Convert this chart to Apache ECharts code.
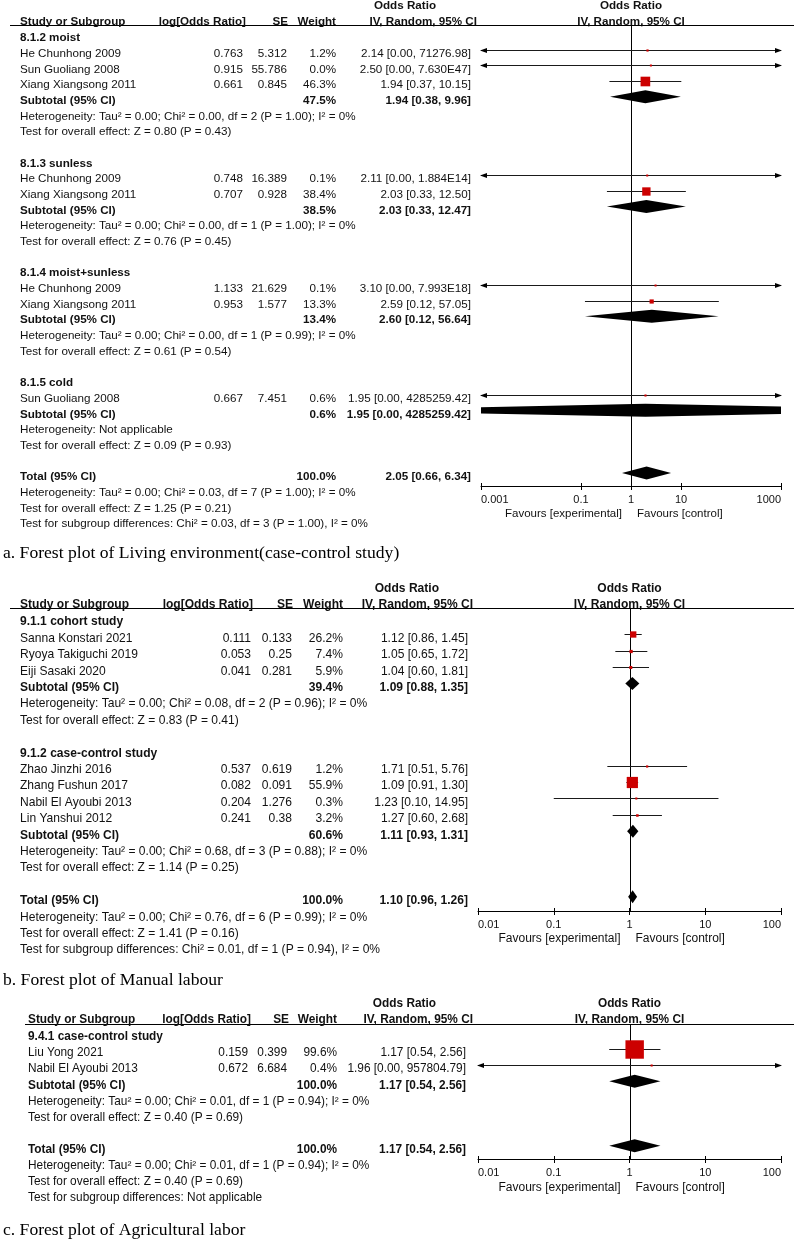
<!DOCTYPE html>
<html><head><meta charset="utf-8">
<script src="https://cdn.jsdelivr.net/npm/echarts@6/dist/echarts.min.js"></script>
<style>html,body{margin:0;padding:0;background:#fff}#c{width:794px;height:1240px}</style>
</head><body><div id="c"></div><script>
// ================= DATA =================
// ---- Panel a: Living environment ----
const aGroupTitles = ['8.1.2 moist', '8.1.3 sunless', '8.1.4 moist+sunless', '8.1.5 cold'];
const aGroupRows = [0, 8, 15, 22];
const aNames = ['He Chunhong 2009', 'Sun Guoliang 2008', 'Xiang Xiangsong 2011', 'He Chunhong 2009', 'Xiang Xiangsong 2011', 'He Chunhong 2009', 'Xiang Xiangsong 2011', 'Sun Guoliang 2008'];
const aRows = [1, 2, 3, 9, 10, 16, 17, 23];
const aLogOR = [0.763, 0.915, 0.661, 0.748, 0.707, 1.133, 0.953, 0.667];
const aSE = [5.312, 55.786, 0.845, 16.389, 0.928, 21.629, 1.577, 7.451];
const aWeight = [1.2, 0.0, 46.3, 0.1, 38.4, 0.1, 13.3, 0.6];
const aOR = [2.14, 2.50, 1.94, 2.11, 2.03, 3.10, 2.59, 1.95];
const aLower = [6.5e-5, 8.2e-48, 0.37, 2.3e-14, 0.33, 1.2e-18, 0.12, 8.8e-7];
const aUpper = [71276.98, 7.630e47, 10.15, 1.884e14, 12.50, 7.993e18, 57.05, 4285259.42];
const aCIText = ['2.14 [0.00, 71276.98]', '2.50 [0.00, 7.630E47]', '1.94 [0.37, 10.15]', '2.11 [0.00, 1.884E14]', '2.03 [0.33, 12.50]', '3.10 [0.00, 7.993E18]', '2.59 [0.12, 57.05]', '1.95 [0.00, 4285259.42]'];
const aSumNames = ['Subtotal (95% CI)', 'Subtotal (95% CI)', 'Subtotal (95% CI)', 'Subtotal (95% CI)', 'Total (95% CI)'];
const aSumRows = [4, 11, 18, 24, 28];
const aSumWeight = [47.5, 38.5, 13.4, 0.6, 100.0];
const aSumOR = [1.94, 2.03, 2.60, 1.95, 2.05];
const aSumLower = [0.38, 0.33, 0.12, 8.8e-7, 0.66];
const aSumUpper = [9.96, 12.47, 56.64, 4285259.42, 6.34];
const aSumCIText = ['1.94 [0.38, 9.96]', '2.03 [0.33, 12.47]', '2.60 [0.12, 56.64]', '1.95 [0.00, 4285259.42]', '2.05 [0.66, 6.34]'];
const aNotes = [
  'Heterogeneity: Tau² = 0.00; Chi² = 0.00, df = 2 (P = 1.00); I² = 0%',
  'Test for overall effect: Z = 0.80 (P = 0.43)',
  'Heterogeneity: Tau² = 0.00; Chi² = 0.00, df = 1 (P = 1.00); I² = 0%',
  'Test for overall effect: Z = 0.76 (P = 0.45)',
  'Heterogeneity: Tau² = 0.00; Chi² = 0.00, df = 1 (P = 0.99); I² = 0%',
  'Test for overall effect: Z = 0.61 (P = 0.54)',
  'Heterogeneity: Not applicable',
  'Test for overall effect: Z = 0.09 (P = 0.93)',
  'Heterogeneity: Tau² = 0.00; Chi² = 0.03, df = 7 (P = 1.00); I² = 0%',
  'Test for overall effect: Z = 1.25 (P = 0.21)',
  'Test for subgroup differences: Chi² = 0.03, df = 3 (P = 1.00), I² = 0%'
];
const aNoteRows = [5, 6, 12, 13, 19, 20, 25, 26, 29, 30, 31];
const aTickLabels = ['0.001', '0.1', '1', '10', '1000'];
const aCaption = 'a. Forest plot of Living environment(case-control study)';

// ---- Panel b: Manual labour ----
const bGroupTitles = ['9.1.1 cohort study', '9.1.2 case-control study'];
const bGroupRows = [0, 8];
const bNames = ['Sanna Konstari 2021', 'Ryoya Takiguchi 2019', 'Eiji Sasaki 2020', 'Zhao Jinzhi 2016', 'Zhang Fushun 2017', 'Nabil El Ayoubi 2013', 'Lin Yanshui 2012'];
const bRows = [1, 2, 3, 9, 10, 11, 12];
const bLogOR = [0.111, 0.053, 0.041, 0.537, 0.082, 0.204, 0.241];
const bSE = [0.133, 0.25, 0.281, 0.619, 0.091, 1.276, 0.38];
const bWeight = [26.2, 7.4, 5.9, 1.2, 55.9, 0.3, 3.2];
const bOR = [1.12, 1.05, 1.04, 1.71, 1.09, 1.23, 1.27];
const bLower = [0.86, 0.65, 0.60, 0.51, 0.91, 0.10, 0.60];
const bUpper = [1.45, 1.72, 1.81, 5.76, 1.30, 14.95, 2.68];
const bCIText = ['1.12 [0.86, 1.45]', '1.05 [0.65, 1.72]', '1.04 [0.60, 1.81]', '1.71 [0.51, 5.76]', '1.09 [0.91, 1.30]', '1.23 [0.10, 14.95]', '1.27 [0.60, 2.68]'];
const bSumNames = ['Subtotal (95% CI)', 'Subtotal (95% CI)', 'Total (95% CI)'];
const bSumRows = [4, 13, 17];
const bSumWeight = [39.4, 60.6, 100.0];
const bSumOR = [1.09, 1.11, 1.10];
const bSumLower = [0.88, 0.93, 0.96];
const bSumUpper = [1.35, 1.31, 1.26];
const bSumCIText = ['1.09 [0.88, 1.35]', '1.11 [0.93, 1.31]', '1.10 [0.96, 1.26]'];
const bNotes = [
  'Heterogeneity: Tau² = 0.00; Chi² = 0.08, df = 2 (P = 0.96); I² = 0%',
  'Test for overall effect: Z = 0.83 (P = 0.41)',
  'Heterogeneity: Tau² = 0.00; Chi² = 0.68, df = 3 (P = 0.88); I² = 0%',
  'Test for overall effect: Z = 1.14 (P = 0.25)',
  'Heterogeneity: Tau² = 0.00; Chi² = 0.76, df = 6 (P = 0.99); I² = 0%',
  'Test for overall effect: Z = 1.41 (P = 0.16)',
  'Test for subgroup differences: Chi² = 0.01, df = 1 (P = 0.94), I² = 0%'
];
const bNoteRows = [5, 6, 14, 15, 18, 19, 20];
const bTickLabels = ['0.01', '0.1', '1', '10', '100'];
const bCaption = 'b. Forest plot of Manual labour';

// ---- Panel c: Agricultural labor ----
const cGroupTitles = ['9.4.1 case-control study'];
const cGroupRows = [0];
const cNames = ['Liu Yong 2021', 'Nabil El Ayoubi 2013'];
const cRows = [1, 2];
const cLogOR = [0.159, 0.672];
const cSE = [0.399, 6.684];
const cWeight = [99.6, 0.4];
const cOR = [1.17, 1.96];
const cLower = [0.54, 4.0e-6];
const cUpper = [2.56, 957804.79];
const cCIText = ['1.17 [0.54, 2.56]', '1.96 [0.00, 957804.79]'];
const cSumNames = ['Subtotal (95% CI)', 'Total (95% CI)'];
const cSumRows = [3, 7];
const cSumWeight = [100.0, 100.0];
const cSumOR = [1.17, 1.17];
const cSumLower = [0.54, 0.54];
const cSumUpper = [2.56, 2.56];
const cSumCIText = ['1.17 [0.54, 2.56]', '1.17 [0.54, 2.56]'];
const cNotes = [
  'Heterogeneity: Tau² = 0.00; Chi² = 0.01, df = 1 (P = 0.94); I² = 0%',
  'Test for overall effect: Z = 0.40 (P = 0.69)',
  'Heterogeneity: Tau² = 0.00; Chi² = 0.01, df = 1 (P = 0.94); I² = 0%',
  'Test for overall effect: Z = 0.40 (P = 0.69)',
  'Test for subgroup differences: Not applicable'
];
const cNoteRows = [4, 5, 8, 9, 10];
const cTickLabels = ['0.01', '0.1', '1', '10', '100'];
const cCaption = 'c. Forest plot of Agricultural labor';

// shared header texts
const headerLabels = ['Study or Subgroup', 'log[Odds Ratio]', 'SE', 'Weight', 'IV, Random, 95% CI'];
const headerTop = 'Odds Ratio';
const favoursLabels = ['Favours [experimental]', 'Favours [control]'];

// ================= LAYOUT / STYLE =================
const SANS = '"Liberation Sans", Arial, Helvetica, sans-serif';
const SERIF = '"Liberation Serif", "Times New Roman", Times, serif';
const TEXT_DY = 2;    // table text sits slightly below the row line
const MARK_DY = -2;   // plotted marks sit slightly above the row text
const layouts = {
  a: {gridL: 481, gridR: 781, gridT: 25, gridB: 486, rowTop: 36, rowStep: 15.68, fs: 11.65,
      study: 20, log: 243, se: 287, wt: 336, ci: 471,
      hdrY: 21.5, hdrLog: 246, hdrSE: 288, hdrWt: 336, hdrCI: 477, hdrOR: 436,
      ruleX: 10, captionY: 553, favY: 514, favFs: 11.5},
  b: {gridL: 478, gridR: 781, gridT: 608, gridB: 911, rowTop: 620, rowStep: 16.4, fs: 12.05,
      study: 20, log: 251, se: 292, wt: 343, ci: 468,
      hdrY: 604.5, hdrLog: 253, hdrSE: 293, hdrWt: 343, hdrCI: 473, hdrOR: 439,
      ruleX: 10, captionY: 980, favY: 939, favFs: 12},
  c: {gridL: 478, gridR: 781, gridT: 1024, gridB: 1159, rowTop: 1035, rowStep: 16.1, fs: 11.85,
      study: 28, log: 248, se: 287, wt: 337, ci: 466,
      hdrY: 1019.5, hdrLog: 251, hdrSE: 289, hdrWt: 337, hdrCI: 473, hdrOR: 436,
      ruleX: 25, captionY: 1230, favY: 1188, favFs: 12}
};

const panels = [
  {layout: layouts.a, groupTitles: aGroupTitles, groupRows: aGroupRows, names: aNames, rows: aRows, logOR: aLogOR, se: aSE, w: aWeight,
   or: aOR, lo: aLower, hi: aUpper, ciText: aCIText, sumNames: aSumNames, sumRows: aSumRows, sumW: aSumWeight, sumOR: aSumOR,
   sumLo: aSumLower, sumHi: aSumUpper, sumCIText: aSumCIText, notes: aNotes, noteRows: aNoteRows, ticks: aTickLabels, caption: aCaption},
  {layout: layouts.b, groupTitles: bGroupTitles, groupRows: bGroupRows, names: bNames, rows: bRows, logOR: bLogOR, se: bSE, w: bWeight,
   or: bOR, lo: bLower, hi: bUpper, ciText: bCIText, sumNames: bSumNames, sumRows: bSumRows, sumW: bSumWeight, sumOR: bSumOR,
   sumLo: bSumLower, sumHi: bSumUpper, sumCIText: bSumCIText, notes: bNotes, noteRows: bNoteRows, ticks: bTickLabels, caption: bCaption},
  {layout: layouts.c, groupTitles: cGroupTitles, groupRows: cGroupRows, names: cNames, rows: cRows, logOR: cLogOR, se: cSE, w: cWeight,
   or: cOR, lo: cLower, hi: cUpper, ciText: cCIText, sumNames: cSumNames, sumRows: cSumRows, sumW: cSumWeight, sumOR: cSumOR,
   sumLo: cSumLower, sumHi: cSumUpper, sumCIText: cSumCIText, notes: cNotes, noteRows: cNoteRows, ticks: cTickLabels, caption: cCaption}
];

// ================= RENDERERS =================
function txt(text, x, y, font, align, fill) {
  return {type: 'text', silent: true, style: {text, x, y, font, fill: fill || '#111',
    textAlign: align, align: align, textVerticalAlign: 'middle', verticalAlign: 'middle'}};
}

function studyRender(params, api) {
  const cs = params.coordSys;
  const L = cs.x, R = cs.x + cs.width;
  const row = api.value(3);
  const y = Math.round(api.coord([1, row])[1] + MARK_DY) + 0.5;
  const xc = api.coord([api.value(0), row])[0];
  const xlRaw = api.coord([api.value(1), row])[0];
  const xhRaw = api.coord([api.value(2), row])[0];
  const xl = Math.max(L, xlRaw), xh = Math.min(R, xhRaw);
  const kids = [{type: 'line', shape: {x1: xl, y1: y, x2: xh, y2: y}, style: {stroke: '#1a1a1a', lineWidth: 1}}];
  if (xlRaw < L) kids.push({type: 'polygon', shape: {points: [[L - 1, y], [L + 6, y - 2.5], [L + 6, y + 2.5]]}, style: {fill: '#000'}});
  if (xhRaw > R) kids.push({type: 'polygon', shape: {points: [[R + 1, y], [R - 6, y - 2.5], [R - 6, y + 2.5]]}, style: {fill: '#000'}});
  const s = 2 + 0.165 * api.value(4);
  kids.push({type: 'rect', shape: {x: xc - s / 2, y: y - s / 2, width: s, height: s}, style: {fill: '#cc0000'}});
  return {type: 'group', children: kids};
}

function diamondRender(params, api) {
  const cs = params.coordSys;
  const L = cs.x, R = cs.x + cs.width;
  const row = api.value(3);
  const y = api.coord([1, row])[1] + MARK_DY;
  const xc = api.coord([api.value(0), row])[0];
  const xl = api.coord([api.value(1), row])[0];
  const xh = api.coord([api.value(2), row])[0];
  const h = 6.5;
  const pts = [];
  if (xl < L) { const hl = h * (L - xl) / (xc - xl); pts.push([L, y + hl], [L, y - hl]); } else pts.push([xl, y]);
  pts.push([xc, y - h]);
  if (xh > R) { const hr = h * (xh - R) / (xh - xc); pts.push([R, y - hr], [R, y + hr]); } else pts.push([xh, y]);
  pts.push([xc, y + h]);
  return {type: 'polygon', shape: {points: pts}, style: {fill: '#000'}};
}

function refLineRender(params, api) {
  const cs = params.coordSys;
  const x = Math.round(api.coord([api.value(0), api.value(1)])[0]) + 0.5;
  return {type: 'line', shape: {x1: x, y1: cs.y, x2: x, y2: cs.y + cs.height}, style: {stroke: '#000', lineWidth: 1}};
}

function buildRows(P) {
  const L = P.layout, rows = [];
  P.groupTitles.forEach((t, k) => rows.push({row: P.groupRows[k], cells: [{t, x: L.study, a: 'left', b: true}]}));
  P.names.forEach((n, k) => rows.push({row: P.rows[k], cells: [
    {t: n, x: L.study, a: 'left'},
    {t: String(P.logOR[k]), x: L.log, a: 'right'},
    {t: String(P.se[k]), x: L.se, a: 'right'},
    {t: P.w[k].toFixed(1) + '%', x: L.wt, a: 'right'},
    {t: P.ciText[k], x: L.ci, a: 'right'}]}));
  P.sumNames.forEach((n, k) => rows.push({row: P.sumRows[k], cells: [
    {t: n, x: L.study, a: 'left', b: true},
    {t: P.sumW[k].toFixed(1) + '%', x: L.wt, a: 'right', b: true},
    {t: P.sumCIText[k], x: L.ci, a: 'right', b: true}]}));
  P.notes.forEach((n, k) => rows.push({row: P.noteRows[k], cells: [{t: n, x: L.study, a: 'left'}]}));
  return rows;
}

// ================= OPTION =================
const grids = [], xAxes = [], yAxes = [], series = [], graphics = [];
panels.forEach((P, i) => {
  const L = P.layout;
  grids.push({left: L.gridL, top: L.gridT, width: L.gridR - L.gridL, height: L.gridB - L.gridT, containLabel: false, outerBoundsMode: 'none'});
  const tickVals = P.ticks.map(Number);
  const exps = tickVals.map(v => Math.log10(v));
  const labelFor = v => { let best = 0; exps.forEach((e, k) => { if (Math.abs(e - v) < Math.abs(exps[best] - v)) best = k; }); return P.ticks[best]; };
  const xi = xAxes.length;
  xAxes.push({type: 'log', logBase: 10, gridIndex: i, position: 'bottom', min: tickVals[0], max: tickVals[tickVals.length - 1],
    axisLine: {show: true, onZero: false, lineStyle: {color: '#000', width: 1}}, axisTick: {show: false}, axisLabel: {show: false}, splitLine: {show: false}});
  xAxes.push({type: 'value', gridIndex: i, position: 'bottom', min: exps[0], max: exps[exps.length - 1],
    axisLine: {show: false, onZero: false}, splitLine: {show: false},
    axisTick: {show: true, customValues: exps, length: 4, lineStyle: {color: '#000', width: 1}},
    axisLabel: {show: true, customValues: exps, margin: 8, fontSize: 11, color: '#111', fontFamily: SANS,
      formatter: v => labelFor(v), alignMinLabel: 'left', alignMaxLabel: 'right'}});
  xAxes.push({type: 'value', gridIndex: i, position: 'bottom', min: exps[0], max: exps[exps.length - 1],
    axisLine: {show: false, onZero: false}, splitLine: {show: false}, axisLabel: {show: false},
    axisTick: {show: true, inside: true, customValues: exps, length: 3, lineStyle: {color: '#000', width: 1}}});
  yAxes.push({type: 'value', gridIndex: i, inverse: true, show: false,
    min: (L.gridT - L.rowTop) / L.rowStep, max: (L.gridB - L.rowTop) / L.rowStep,
    axisLine: {show: false, onZero: false}, splitLine: {show: false}});

  // reference line at OR = 1
  series.push({type: 'custom', xAxisIndex: xi, yAxisIndex: i, silent: true, z: 1,
    data: [[1, 0]], encode: {x: 0, y: 1}, renderItem: refLineRender});
  // study CI lines & squares
  series.push({type: 'custom', xAxisIndex: xi, yAxisIndex: i, silent: true, z: 2, clip: false,
    data: P.or.map((v, k) => [v, P.lo[k], P.hi[k], P.rows[k], P.w[k]]),
    encode: {x: [0, 1, 2], y: 3}, renderItem: studyRender});
  // pooled diamonds
  series.push({type: 'custom', xAxisIndex: xi, yAxisIndex: i, silent: true, z: 3, clip: false,
    data: P.sumOR.map((v, k) => [v, P.sumLo[k], P.sumHi[k], P.sumRows[k]]),
    encode: {x: [0, 1, 2], y: 3}, renderItem: diamondRender});
  // table text
  const rows = buildRows(P);
  series.push({type: 'custom', xAxisIndex: xi, yAxisIndex: i, silent: true, z: 4, clip: false,
    data: rows.map(r => [1, r.row]), encode: {x: 0, y: 1},
    renderItem: (params, api) => {
      const r = rows[params.dataIndex];
      const y = api.coord([1, api.value(1)])[1] + TEXT_DY;
      return {type: 'group', children: r.cells.map(c => txt(c.t, c.x, y, (c.b ? 'bold ' : '') + L.fs + 'px ' + SANS, c.a))};
    }});

  // headers, rules, captions (static decoration)
  const bold = 'bold ' + L.fs + 'px ' + SANS;
  const plotMid = (L.gridL + L.gridR) / 2;
  graphics.push({type: 'line', silent: true, shape: {x1: L.ruleX, y1: L.gridT + 0.5, x2: 794, y2: L.gridT + 0.5}, style: {stroke: '#000', lineWidth: 1}});
  graphics.push(txt(headerTop, L.hdrOR, L.hdrY - 15.5, bold, 'right'));
  graphics.push(txt(headerTop, plotMid, L.hdrY - 15.5, bold, 'center'));
  graphics.push(txt(headerLabels[0], L.study, L.hdrY, bold, 'left'));
  graphics.push(txt(headerLabels[1], L.hdrLog, L.hdrY, bold, 'right'));
  graphics.push(txt(headerLabels[2], L.hdrSE, L.hdrY, bold, 'right'));
  graphics.push(txt(headerLabels[3], L.hdrWt, L.hdrY, bold, 'right'));
  graphics.push(txt(headerLabels[4], L.hdrCI, L.hdrY, bold, 'right'));
  graphics.push(txt(headerLabels[4], plotMid, L.hdrY, bold, 'center'));
  const favFont = L.favFs + 'px ' + SANS;
  graphics.push(txt(favoursLabels[0], plotMid - 9, L.favY, favFont, 'right'));
  graphics.push(txt(favoursLabels[1], plotMid + 6, L.favY, favFont, 'left'));
  graphics.push(txt(P.caption, 3, L.captionY, '17.6px ' + SERIF, 'left', '#000'));
});

const chart = echarts.init(document.getElementById('c'), null, {renderer: 'canvas'});
chart.setOption({
  animation: false,
  backgroundColor: '#fff',
  grid: grids, xAxis: xAxes, yAxis: yAxes, series: series, graphic: graphics
});
</script></body></html>
